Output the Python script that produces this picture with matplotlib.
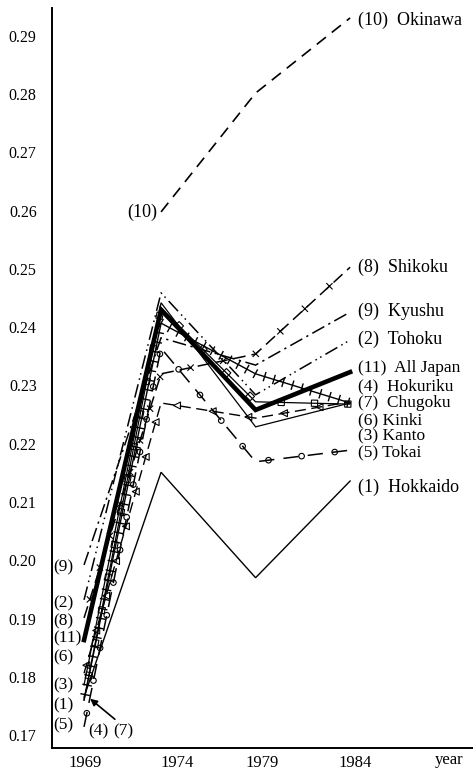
import numpy as np
import matplotlib
matplotlib.use('Agg')
import matplotlib.pyplot as plt
from matplotlib.patheffects import AbstractPathEffect, Normal
from matplotlib.markers import MarkerStyle
from matplotlib.transforms import Affine2D

plt.rcParams['font.family'] = ['Liberation Serif', 'DejaVu Serif']

# data
years = [1969, 1974, 1979, 1984]
hokkaido = [0.1765, 0.2151, 0.1970, 0.2136]
tohoku = [0.1932, 0.2459, 0.2284, 0.2378]
kanto = [0.1786, 0.2442, 0.2229, 0.2270]
hokuriku = [0.1760, 0.2407, 0.2320, 0.2270]
tokai = [0.1714, 0.2364, 0.2169, 0.2189]
kinki = [0.1806, 0.2270, 0.2244, 0.2272]
chugoku = [0.1760, 0.2433, 0.2272, 0.2268]
shikoku = [0.1901, 0.2320, 0.2354, 0.2503]
kyushu = [0.1992, 0.2382, 0.2335, 0.2426]
okinawa = [np.nan, 0.2598, 0.2802, 0.2931]
all_japan = [0.1863, 0.2430, 0.2258, 0.2323]

ytick_vals = [0.17, 0.18, 0.19, 0.20, 0.21, 0.22, 0.23, 0.24, 0.25, 0.26, 0.27, 0.28, 0.29]
xtick_labels = ['1969', '1974', '1979', '1984']

# the printed time axis is not uniform: 1969-74 is shorter than later spans
yr_anchor = [1960, 1969, 1974, 1984, 2000]
pos_anchor = [-106.6, 32, 109, 298, 600.4]


def fwd(x):
    return np.interp(x, yr_anchor, pos_anchor)


def inv(p):
    return np.interp(p, pos_anchor, yr_anchor)


class MarkAlong(AbstractPathEffect):
    """draw small markers at regular spacing along a line"""

    def __init__(self, marker, spacing=25, size=5, start=8, rotate=False, lw=0.8):
        super().__init__()
        ms = MarkerStyle(marker)
        self.mpath = ms.get_path().transformed(ms.get_transform())
        self.spacing, self.size, self.start = spacing, size, start
        self.rotate, self.lw = rotate, lw

    def draw_path(self, renderer, gc, tpath, affine, rgbFace=None):
        v = affine.transform(tpath.vertices)
        v = v[np.all(np.isfinite(v), axis=1)]
        if len(v) < 2:
            return
        d = np.hypot(*np.diff(v, axis=0).T)
        cum = np.concatenate([[0], np.cumsum(d)])
        s = np.arange(renderer.points_to_pixels(self.start), cum[-1],
                      renderer.points_to_pixels(self.spacing))
        gc0 = renderer.new_gc()
        gc0.copy_properties(gc)
        gc0.set_dashes(0, None)
        gc0.set_linewidth(self.lw)
        sz = renderer.points_to_pixels(self.size)
        for si in s:
            i = min(np.searchsorted(cum, si, side='right') - 1, len(d) - 1)
            t = (si - cum[i]) / d[i] if d[i] else 0
            p = v[i] + t * (v[i + 1] - v[i])
            dv = v[i + 1] - v[i]
            ang = np.arctan2(dv[1], dv[0]) if self.rotate else 0
            tr = Affine2D().scale(sz).rotate(ang).translate(p[0], p[1])
            renderer.draw_path(gc0, self.mpath, tr, None)
        gc0.restore()


fig = plt.figure(figsize=(4.73, 7.70), dpi=100)
ax = fig.add_axes([52 / 473, 22 / 770, 421 / 473, 740 / 770])
ax.set_xscale('function', functions=(fwd, inv))

k = dict(color='black', solid_joinstyle='miter')
ax.plot(years, hokkaido, lw=1.0, **k)
ax.plot(years, kanto, lw=0.9, **k)
ax.plot(years, tohoku, lw=1.1, dashes=(9, 3, 1, 2.5, 1, 3), **k)
ax.plot(years, kyushu, lw=1.1, dashes=(9, 3, 1.5, 3), **k)
ax.plot(years, okinawa, lw=1.2, dashes=(7, 4.5), **k)
ax.plot(years, shikoku, lw=1.1, dashes=(8, 4), **k,
        path_effects=[Normal(), MarkAlong('x', spacing=24, size=4.5, start=14)])
ax.plot(years, tokai, lw=1.1, dashes=(10, 6), **k,
        path_effects=[Normal(), MarkAlong('o', spacing=24, size=4, start=10)])
ax.plot(years, kinki, lw=1.0, dashes=(8, 4), **k,
        path_effects=[Normal(), MarkAlong('<', spacing=26, size=5, start=6)])
ax.plot(years, chugoku, lw=0.9, **k,
        path_effects=[Normal(), MarkAlong('s', spacing=24, size=4.5, start=18, rotate=True)])
ax.plot(years, hokuriku, lw=1.0, **k,
        path_effects=[Normal(), MarkAlong('|', spacing=7, size=6, start=4, rotate=True, lw=1.0)])
ax.plot(years, all_japan, lw=3.3, **k)

ax.set_xlim(1966.92, 1990.5)
ax.set_ylim(0.16777, 0.2948)
ax.set_yticks(ytick_vals, ['%.2f' % v for v in ytick_vals], fontsize=11.5)
ax.set_xticks([1969.06, 1974.85, 1979.34, 1984.26], xtick_labels, fontsize=12)
ax.tick_params(length=0, pad=5)
ax.tick_params(axis='y', pad=11)
for s in ['top', 'right']:
    ax.spines[s].set_visible(False)
ax.spines['left'].set_linewidth(1.4)
ax.spines['bottom'].set_linewidth(1.4)


def ftext(px, py, s, fs=12.5):
    fig.text(px / 473, 1 - py / 770, s, fontsize=fs, va='center', ha='left')


# right-hand labels
ftext(358, 20, '(10)  Okinawa', fs=13)
ftext(358, 267, '(8)  Shikoku', fs=13)
ftext(358, 311, '(9)  Kyushu', fs=13)
ftext(358, 339, '(2)  Tohoku', fs=13)
ftext(358, 368, '(11)  All Japan')
ftext(358, 386, '(4)  Hokuriku')
ftext(358, 403, '(7)  Chugoku')
ftext(358, 420, '(6) Kinki')
ftext(358, 436, '(3) Kanto')
ftext(358, 452, '(5) Tokai')
ftext(358, 487, '(1)  Hokkaido', fs=13)

# left-hand labels
ftext(127, 212, '(10)', fs=13)
for lab, py in [('(9)', 567), ('(2)', 603), ('(8)', 621), ('(11)', 638), ('(6)', 657),
                ('(3)', 685), ('(1)', 705), ('(5)', 725)]:
    ftext(53, py, lab)
ftext(88, 731, '(4)')
ftext(113, 731, '(7)')
ftext(435, 760, 'year', fs=12)

ax.annotate('', xy=(88, 770 - 697), xycoords='figure pixels',
            xytext=(117, 770 - 721), textcoords='figure pixels',
            arrowprops=dict(arrowstyle='-|>', color='black', lw=1.2, mutation_scale=10))

plt.savefig('out.png', dpi=100)
